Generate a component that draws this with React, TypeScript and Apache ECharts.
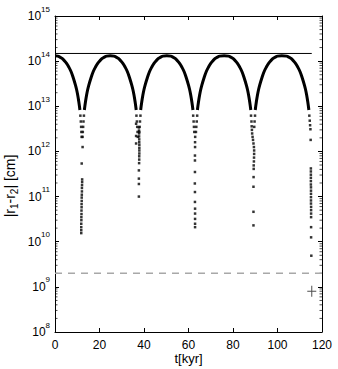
import React, { useEffect, useRef } from 'react';
import * as echarts from 'echarts';

// ---- data ----
const xTickValues = [0, 20, 40, 60, 80, 100, 120];
const yDecadeExponents = [8, 9, 10, 11, 12, 13, 14, 15];

// arches (dense part of the curve), t in kyr, |r1-r2| in cm
const arch0T = [0, 1.2, 2.2, 3.2, 4.2, 5.2, 6.2, 7.2, 8.2, 9.2, 9.7, 10.2, 10.7, 11.2];
const arch0V = [1.31e14, 1.29e14, 1.23e14, 1.15e14, 1.02e14, 8.9e13, 7.4e13, 5.9e13, 4.3e13, 2.95e13, 2.35e13, 1.78e13, 1.26e13, 8.3e12];

const arch1T = [13.2, 13.7, 14.2, 14.7, 15.2, 16.2, 17.2, 18.2, 19.2, 20.2, 21.2, 22.2, 23.2, 24.85, 26.5, 27.5, 28.5, 29.5, 30.5, 31.5, 32.5, 33.5, 34.5, 35.0, 35.5, 36.0, 36.5];
const arch1V = [8.3e12, 1.26e13, 1.78e13, 2.35e13, 2.95e13, 4.3e13, 5.9e13, 7.4e13, 8.9e13, 1.02e14, 1.15e14, 1.23e14, 1.29e14, 1.32e14, 1.29e14, 1.23e14, 1.15e14, 1.02e14, 8.9e13, 7.4e13, 5.9e13, 4.3e13, 2.95e13, 2.35e13, 1.78e13, 1.26e13, 8.3e12];

const arch2T = [38.5, 39.0, 39.5, 40.0, 40.5, 41.5, 42.5, 43.5, 44.5, 45.5, 46.5, 47.5, 48.5, 50.25, 52.0, 53.0, 54.0, 55.0, 56.0, 57.0, 58.0, 59.0, 60.0, 60.5, 61.0, 61.5, 62.0];
const arch2V = [8.3e12, 1.26e13, 1.78e13, 2.35e13, 2.95e13, 4.3e13, 5.9e13, 7.4e13, 8.9e13, 1.02e14, 1.15e14, 1.23e14, 1.29e14, 1.32e14, 1.29e14, 1.23e14, 1.15e14, 1.02e14, 8.9e13, 7.4e13, 5.9e13, 4.3e13, 2.95e13, 2.35e13, 1.78e13, 1.26e13, 8.3e12];

const arch3T = [64.0, 64.5, 65.0, 65.5, 66.0, 67.0, 68.0, 69.0, 70.0, 71.0, 72.0, 73.0, 74.0, 76.0, 78.0, 79.0, 80.0, 81.0, 82.0, 83.0, 84.0, 85.0, 86.0, 86.5, 87.0, 87.5, 88.0];
const arch3V = [8.3e12, 1.26e13, 1.78e13, 2.35e13, 2.95e13, 4.3e13, 5.9e13, 7.4e13, 8.9e13, 1.02e14, 1.15e14, 1.23e14, 1.29e14, 1.32e14, 1.29e14, 1.23e14, 1.15e14, 1.02e14, 8.9e13, 7.4e13, 5.9e13, 4.3e13, 2.95e13, 2.35e13, 1.78e13, 1.26e13, 8.3e12];

const arch4T = [90.0, 90.5, 91.0, 91.5, 92.0, 93.0, 94.0, 95.0, 96.0, 97.0, 98.0, 99.0, 100.0, 101.9, 104.1, 105.1, 106.1, 107.1, 108.1, 109.1, 110.1, 111.1, 112.1, 112.6, 113.1, 113.6, 114.1];
const arch4V = [8.3e12, 1.26e13, 1.78e13, 2.35e13, 2.95e13, 4.3e13, 5.9e13, 7.4e13, 8.9e13, 1.02e14, 1.15e14, 1.23e14, 1.29e14, 1.32e14, 1.29e14, 1.23e14, 1.15e14, 1.02e14, 8.9e13, 7.4e13, 5.9e13, 4.3e13, 2.95e13, 2.35e13, 1.78e13, 1.26e13, 8.3e12];

// sparse points in the close-approach dips
const dip1T = [11.4, 11.6, 11.75, 11.85, 11.95, 13.0, 12.8, 12.65, 12.5, 12.4, 12.4, 12.0, 12.2, 12.2, 12.15, 12.1, 12.1, 12.05, 12.0, 12.0, 11.95, 11.95, 11.9, 11.9, 11.85, 11.85, 11.8, 11.8, 11.8, 11.8];
const dip1V = [6.2e12, 4.6e12, 3.5e12, 2.7e12, 2.1e12, 6.2e12, 4.6e12, 3.5e12, 2.7e12, 2.1e12, 1.25e12, 5.4e11, 2.4e11, 2.1e11, 1.8e11, 1.55e11, 1.3e11, 1.1e11, 9.5e10, 8e10, 6.8e10, 5.8e10, 4.9e10, 4.1e10, 3.5e10, 3e10, 2.5e10, 2.1e10, 1.8e10, 1.55e10];

const dip2T = [36.6, 36.8, 36.95, 37.1, 37.2, 38.4, 38.2, 38.05, 37.9, 37.7, 37.75, 37.8, 37.8, 37.85, 37.85, 37.9, 37.9, 37.9, 37.9, 37.85, 37.85, 37.8, 37.7, 37.7, 37.7, 37.7, 36.45, 36.45, 36.45];
const dip2V = [6.2e12, 4.6e12, 3.5e12, 2.7e12, 2.1e12, 6.2e12, 4.6e12, 3.5e12, 2.7e12, 3.4e12, 2.9e12, 2.5e12, 2.15e12, 1.85e12, 1.6e12, 1.4e12, 1.2e12, 1.05e12, 9e11, 7.8e11, 6.6e11, 5.5e11, 3.8e11, 2.5e11, 1.9e11, 1.0e11, 4.1e12, 2.2e12, 1.5e12];

const dip3T = [62.1, 62.3, 62.45, 62.6, 63.9, 63.7, 63.5, 63.35, 63.0, 62.95, 62.95, 62.9, 62.9, 62.9, 62.85, 62.9, 62.9, 62.95, 62.95, 62.95, 62.95, 62.95];
const dip3V = [6.2e12, 4.6e12, 3.5e12, 2.7e12, 6.2e12, 4.6e12, 3.5e12, 2.7e12, 2.1e12, 1.6e12, 1.25e12, 8.1e11, 6.3e11, 3.5e11, 1.95e11, 1.26e11, 7.6e10, 5.4e10, 4.2e10, 3.2e10, 2.5e10, 2.1e10];

const dip4T = [88.1, 88.3, 88.4, 89.9, 89.7, 89.55, 88.5, 88.6, 88.8, 89.0, 89.2, 89.4, 89.5, 89.5, 89.45, 89.4, 89.3, 89.3, 89.25, 89.2, 89.2, 89.2];
const dip4V = [6.2e12, 4.6e12, 3.6e12, 6.2e12, 4.6e12, 3.5e12, 3e12, 2.5e12, 2.1e12, 1.8e12, 1.5e12, 1.25e12, 1.05e12, 8.8e11, 7.3e11, 6e11, 4.9e11, 4.1e11, 2.7e11, 1.65e11, 4.6e10, 2.3e10];

const dip5T = [114.3, 114.5, 114.65, 114.8, 114.9, 115.0, 115.0, 115.0, 115.0, 115.0, 115.0, 115.05, 115.05, 115.05, 115.05, 115.05, 115.05, 115.1, 115.1, 115.1, 115.1, 115.1, 115.1, 115.2];
const dip5V = [6.2e12, 4.8e12, 3.8e12, 3.1e12, 1.8e12, 4.2e11, 3.6e11, 3.05e11, 2.6e11, 2.2e11, 1.85e11, 1.6e11, 1.35e11, 1.15e11, 9.7e10, 8.2e10, 7e10, 5.9e10, 5e10, 4.2e10, 3.5e10, 2.1e10, 1.25e10, 4.9e9];

const refLevelT = [0, 115.4];
const refLevelV = [1.48e14, 1.48e14];
const thresholdT = [0, 120];
const thresholdV = [2e9, 2e9];
const crossT = [115.4];
const crossV = [8e8];

const FONT = '"Liberation Sans", Arial, Helvetica, sans-serif';

const zip = (t: number[], v: number[]) => t.map((x, i) => [x, v[i]]);

export default function App() {
  const ref = useRef<HTMLDivElement>(null);
  useEffect(() => {
    document.body.style.margin = '0';
    const chart = echarts.init(ref.current!, undefined, { renderer: 'svg' });
    const arches = [
      [arch0T, arch0V], [arch1T, arch1V], [arch2T, arch2V], [arch3T, arch3V], [arch4T, arch4V],
    ];
    const dips = [
      [dip1T, dip1V], [dip2T, dip2V], [dip3T, dip3V], [dip4T, dip4V], [dip5T, dip5V],
    ];
    const series: any[] = [];
    arches.forEach(([t, v]) => {
      series.push({
        type: 'line', data: zip(t, v), smooth: 0.4, symbol: 'none', silent: true, z: 3,
        lineStyle: { color: '#000', width: 3 },
      });
    });
    dips.forEach(([t, v]) => {
      series.push({
        type: 'scatter', data: zip(t, v), symbol: 'rect', symbolSize: 2.5, silent: true, z: 4,
        itemStyle: { color: '#000' },
      });
    });
    series.push({
      type: 'line', data: zip(refLevelT, refLevelV), symbol: 'none', silent: true, z: 2,
      lineStyle: { color: '#000', width: 1 },
    });
    series.push({
      type: 'line', data: zip(thresholdT, thresholdV), symbol: 'none', silent: true, z: 2,
      lineStyle: { color: '#a8a8a8', width: 1.6, type: [7, 6] },
    });
    series.push({
      type: 'scatter', data: zip(crossT, crossV), silent: true, z: 5,
      symbol: 'path://M4,0h1v11h-1zM0,5h9v1h-9z', symbolSize: [9, 11],
      itemStyle: { color: '#222' },
    });

    const xAxisCommon = {
      type: 'value', min: 0, max: 120, interval: 20,
      splitLine: { show: false },
      axisLine: { show: true, onZero: false, lineStyle: { color: '#000', width: 1 } },
      axisTick: { show: true, inside: true, length: 4, lineStyle: { color: '#000' } },
    };
    const yAxisCommon = {
      type: 'log', logBase: 10, min: 1e8, max: 1e15, splitNumber: 7,
      splitLine: { show: false },
      axisLine: { show: true, onZero: false, lineStyle: { color: '#000', width: 1 } },
      axisTick: { show: true, inside: true, length: 4, lineStyle: { color: '#000' } },
    };

    chart.setOption({
      animation: false,
      grid: { left: 55, right: 16, top: 16, bottom: 37, containLabel: false },
      xAxis: [
        {
          ...xAxisCommon, position: 'bottom',
          axisLabel: {
            show: true, margin: 7, fontSize: 12, color: '#000', fontFamily: FONT,
            formatter: (v: number) => (xTickValues.includes(v) ? String(v) : ''),
          },
        },
        { ...xAxisCommon, position: 'top', axisLabel: { show: false } },
      ],
      yAxis: [
        {
          ...yAxisCommon, position: 'left',
          axisLabel: {
            show: true, margin: 5, color: '#000', fontFamily: FONT,
            formatter: (v: number) => {
              const e = Math.round(Math.log10(v));
              return yDecadeExponents.includes(e) ? `{b|10}{s|${e}}` : '';
            },
            rich: {
              b: { fontSize: 12, fontFamily: FONT, color: '#000', lineHeight: 14 },
              s: { fontSize: 8, fontFamily: FONT, color: '#000', lineHeight: 9, padding: [0, 0, 14, 0] },
            },
          },
        },
        { ...yAxisCommon, position: 'right', axisLabel: { show: false } },
      ],
      series,
    });

    const graphics: any[] = [
      {
        type: 'text', x: 10, y: 186, rotation: Math.PI / 2, silent: true,
        style: {
          text: '|r{sub|1}-r{sub|2}| [cm]', fontSize: 14, fontFamily: FONT, fill: '#000',
          align: 'center', verticalAlign: 'middle',
          rich: { sub: { fontSize: 10, fontFamily: FONT, fill: '#000', padding: [8, 0, 0, 0] } },
        },
      },
      {
        type: 'text', x: 188.5, y: 358, silent: true,
        style: { text: 't[kyr]', fontSize: 13, fontFamily: FONT, fill: '#000', align: 'center', verticalAlign: 'middle' },
      },
    ];
    for (let n = 8; n < 15; n++) {
      for (let k = 2; k <= 9; k++) {
        const y = chart.convertToPixel({ yAxisIndex: 0 }, k * Math.pow(10, n)) as number;
        graphics.push({ type: 'line', silent: true, shape: { x1: 55, y1: y, x2: 57.5, y2: y }, style: { stroke: '#000', lineWidth: 0.7 } });
        graphics.push({ type: 'line', silent: true, shape: { x1: 322, y1: y, x2: 319.5, y2: y }, style: { stroke: '#000', lineWidth: 0.7 } });
      }
    }
    chart.setOption({ graphic: graphics });

    return () => chart.dispose();
  }, []);
  return <div ref={ref} style={{ width: 338, height: 369 }} />;
}
